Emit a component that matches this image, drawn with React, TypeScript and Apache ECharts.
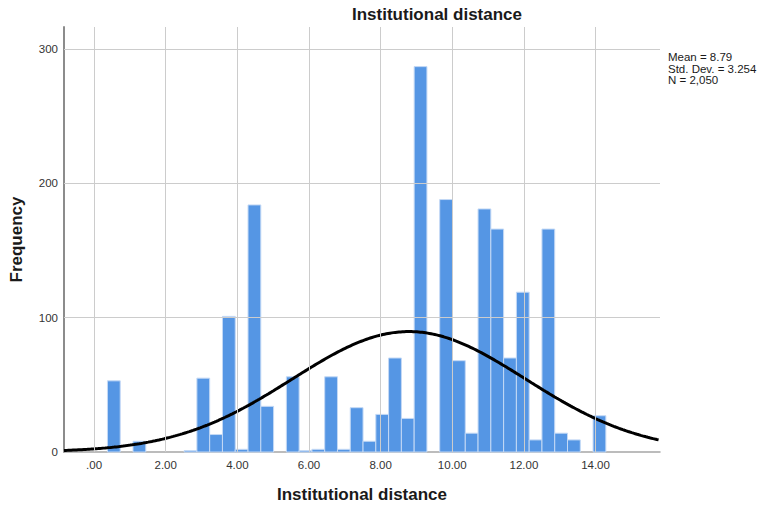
import React, { useEffect, useRef } from "react";
import * as echarts from "echarts";

// Histogram bins: first bin's lower edge and common width
const binStart = 0.373;
const binWidth = 0.3568;
// Frequency per bin, left to right
const counts = [
  53, 0, 8, 0, 0, 0, 1, 55, 13, 101, 2, 184, 34, 0, 56, 1, 2, 56, 2, 33,
  8, 28, 70, 25, 287, 0, 188, 68, 14, 181, 166, 70, 119, 9, 166, 14, 9, 0, 27,
];

// Summary statistics used for the fitted normal curve
const mean = 8.79;
const stdDev = 3.254;
const total = 2050;
const statLines = ["Mean = 8.79", "Std. Dev. = 3.254", "N = 2,050"];

// Axis ticks
const xTicks = [0, 2, 4, 6, 8, 10, 12, 14];
const yTicks = [0, 100, 200, 300];
const xMin = -0.84;
const xMax = 15.8;
const yMax = 316.5;

const FONT = '"Liberation Sans", Arial, sans-serif';

export default function App() {
  const ref = useRef<HTMLDivElement>(null);

  useEffect(() => {
    if (!ref.current) return;
    const chart = echarts.init(ref.current, undefined, { renderer: "svg" });

    const bins = counts
      .map((c, i) => [binStart + i * binWidth, binStart + (i + 1) * binWidth, c])
      .filter((d) => d[2] > 0);

    const curve: number[][] = [];
    const step = 0.05;
    const scale = (total * binWidth) / (stdDev * Math.sqrt(2 * Math.PI));
    for (let x = xMin; x <= xMax + 1e-9; x += step) {
      const z = (x - mean) / stdDev;
      curve.push([x, scale * Math.exp(-0.5 * z * z)]);
    }

    const gridLine = { color: "#cccccc", width: 1, type: "solid" as const };

    chart.setOption({
      animation: false,
      grid: { left: 61, right: 97, top: 27, bottom: 55, containLabel: false },
      xAxis: {
        type: "value",
        min: xMin,
        max: xMax,
        name: "Institutional distance",
        nameLocation: "middle",
        nameGap: 34,
        nameTextStyle: { fontFamily: FONT, fontWeight: "bold", fontSize: 17, color: "#1a1a1a" },
        axisLine: { show: true, onZero: false, lineStyle: { color: "#a6a6a6", width: 1.5 } },
        axisTick: { show: false },
        splitLine: { show: false },
        axisLabel: {
          customValues: xTicks,
          fontFamily: FONT,
          fontSize: 11.5,
          color: "#333333",
          margin: 7,
          formatter: (v: number) => (v === 0 ? ".00" : v.toFixed(2)),
        },
      },
      yAxis: {
        type: "value",
        min: 0,
        max: yMax,
        name: "Frequency",
        nameLocation: "middle",
        nameGap: 39,
        nameRotate: 90,
        nameTextStyle: { fontFamily: FONT, fontWeight: "bold", fontSize: 17, color: "#1a1a1a" },
        axisLine: { show: true, onZero: false, lineStyle: { color: "#8c8c8c", width: 2 } },
        axisTick: { show: false },
        splitLine: { show: false },
        axisLabel: {
          customValues: yTicks,
          fontFamily: FONT,
          fontSize: 11.5,
          color: "#333333",
          margin: 6,
        },
      },
      series: [
        {
          type: "line",
          data: [],
          z: 0,
          silent: true,
          markLine: {
            silent: true,
            symbol: ["none", "none"],
            label: { show: false },
            lineStyle: gridLine,
            emphasis: { disabled: true },
            data: [
              ...xTicks.map((v) => ({ xAxis: v })),
              ...yTicks.filter((v) => v > 0).map((v) => ({ yAxis: v })),
            ],
          },
        },
        {
          type: "custom",
          z: 2,
          silent: true,
          data: bins,
          encode: { x: [0, 1], y: 2 },
          renderItem: (_params: any, api: any) => {
            const p0 = api.coord([api.value(0), api.value(2)]);
            const p1 = api.coord([api.value(1), 0]);
            return {
              type: "rect",
              shape: { x: p0[0], y: p0[1], width: p1[0] - p0[0], height: p1[1] - p0[1] },
              style: { fill: "#5596e4", stroke: "#c4d9f5", lineWidth: 1 },
            };
          },
        },
        {
          type: "line",
          z: 3,
          silent: true,
          data: curve,
          showSymbol: false,
          smooth: false,
          clip: true,
          lineStyle: { color: "#000000", width: 3 },
        },
      ],
      graphic: [
        {
          type: "text",
          x: 437,
          y: 14,
          style: {
            text: "Institutional distance",
            font: `bold 17px ${FONT}`,
            fill: "#1a1a1a",
            textAlign: "center",
            textVerticalAlign: "middle",
          },
        },
        ...statLines.map((t, i) => ({
          type: "text",
          x: 668,
          y: 57 + i * 11.5,
          style: {
            text: t,
            font: `11.5px ${FONT}`,
            fill: "#1a1a1a",
            textAlign: "left",
            textVerticalAlign: "middle",
          },
        })),
      ],
    });

    return () => chart.dispose();
  }, []);

  return <div ref={ref} style={{ width: 757, height: 508, position: "absolute", left: 0, top: 0 }} />;
}
